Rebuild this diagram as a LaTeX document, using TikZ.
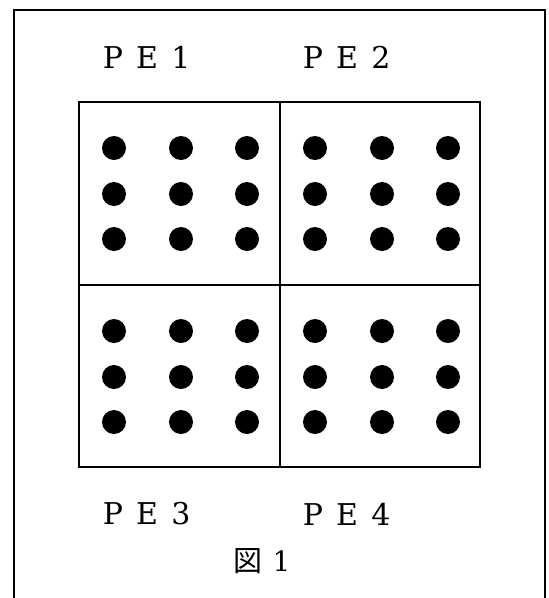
\documentclass[tikz,border=0pt]{standalone}
\usepackage{fontspec}
\setmainfont{DejaVu Serif}
\newfontfamily\cjk{Noto Sans CJK JP}
\newcommand{\ch}[1]{\makebox[34pt][c]{#1}}
\begin{document}
\begin{tikzpicture}[x=1pt,y=-1pt,
  frameline/.style={line width=1.6pt},
  gridline/.style={line width=1.6pt},
  dot/.style={circle,fill=black,inner sep=0pt,minimum size=24pt},
  lbl/.style={font=\fontsize{30}{30}\selectfont,inner sep=0pt}]
\useasboundingbox (0,0) rectangle (549,598);
% outer frame (open at bottom)
\draw[frameline] (14,598) -- (14,10) -- (545,10) -- (545,598);
% grid
\draw[gridline] (79,102) rectangle (480,467);
\draw[gridline] (280,102) -- (280,467);
\draw[gridline] (79,285) -- (480,285);
% dots
\foreach \qx in {0,201}{
  \foreach \qy in {0,183}{
    \foreach \cx in {35,102,168}{
      \foreach \cy in {46,92,137}{
        \node[dot] (d-\qx-\qy-\cx-\cy) at (79+\qx+\cx,102+\qy+\cy) {};
      }
    }
  }
}
% labels
\node[lbl] (pe1) at (147,57) {\ch{P}\ch{E}\ch{1}};
\node[lbl] (pe2) at (347,57) {\ch{P}\ch{E}\ch{2}};
\node[lbl] (pe3) at (147,514) {\ch{P}\ch{E}\ch{3}};
\node[lbl] (pe4) at (347,514) {\ch{P}\ch{E}\ch{4}};
\node[inner sep=0pt] (fig) at (262,561) {{\cjk\fontsize{29}{29}\selectfont 図}\hskip 10pt{\fontsize{28}{28}\selectfont 1}};
\end{tikzpicture}
\end{document}
